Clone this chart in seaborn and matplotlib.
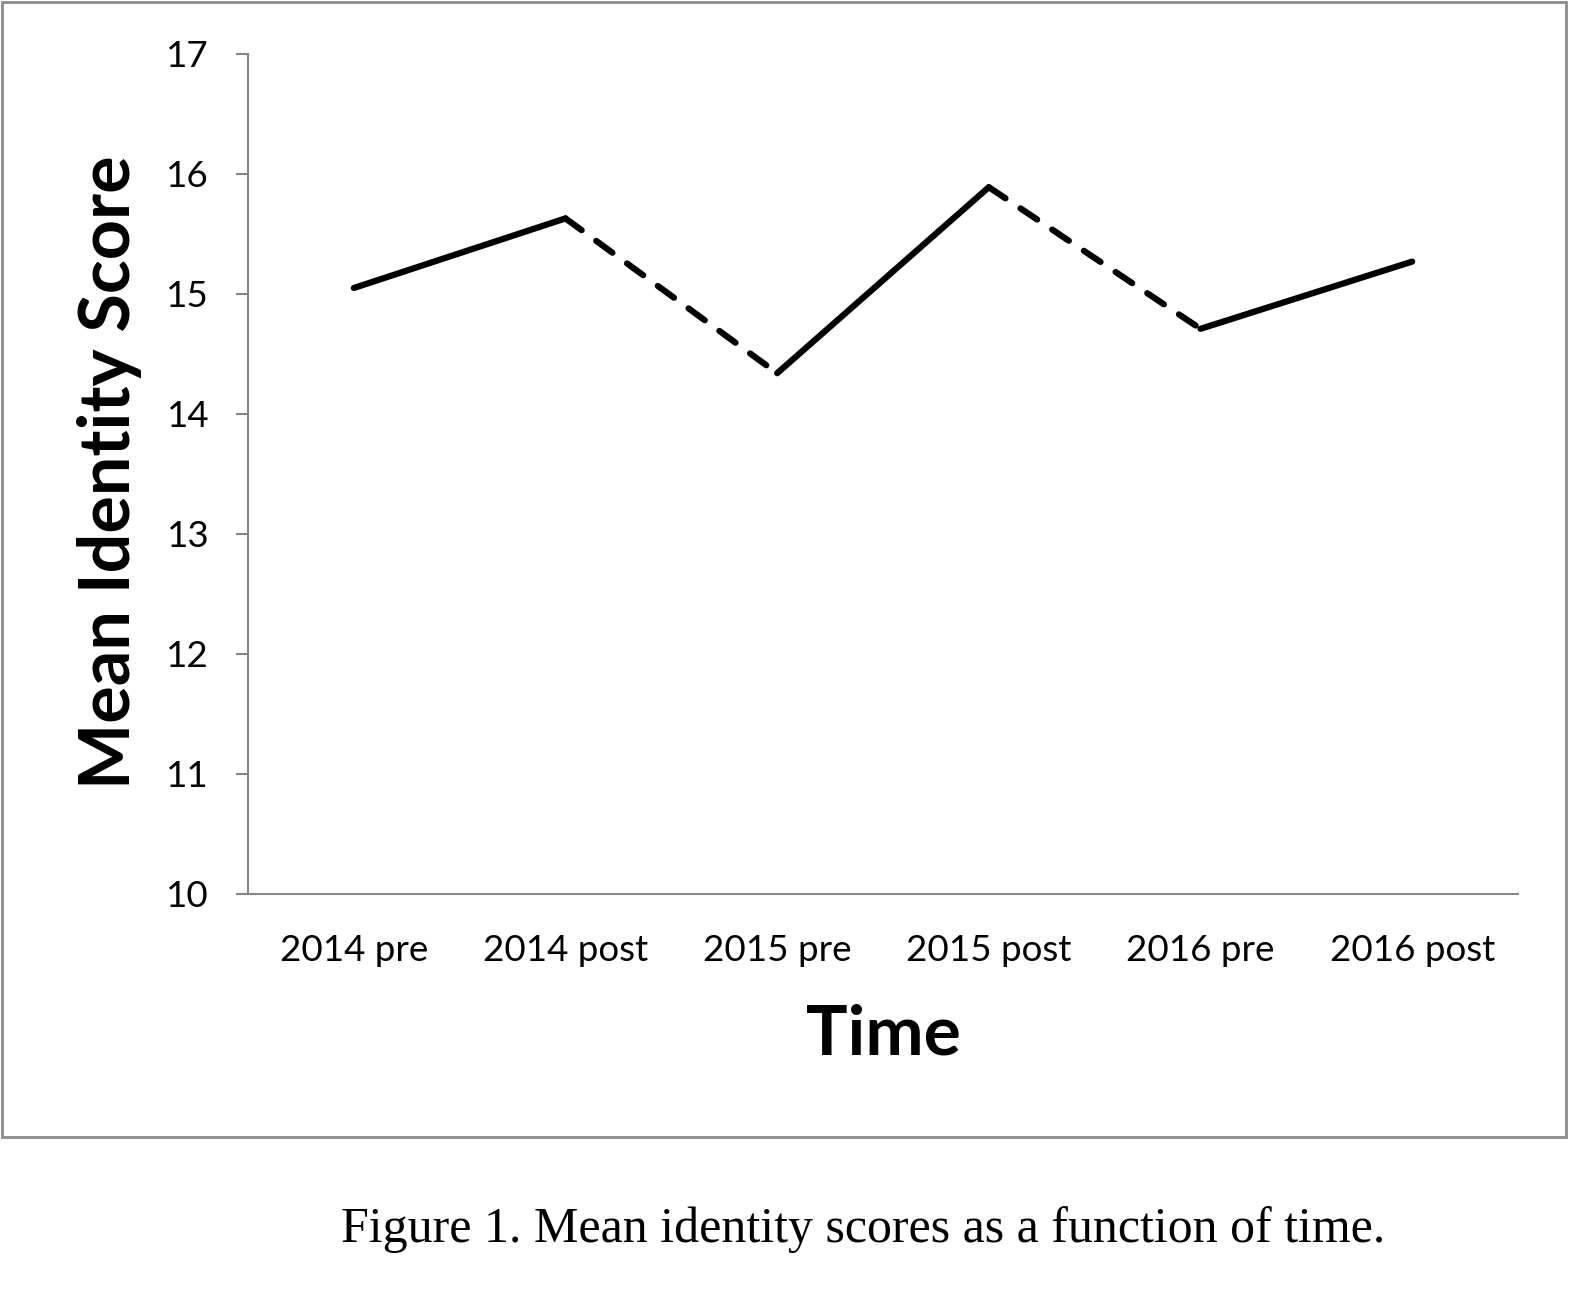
import matplotlib
matplotlib.use("Agg")
import matplotlib.pyplot as plt
import seaborn as sns
import pandas as pd
from matplotlib.patches import Rectangle

# Data
time_points = ["2014 pre", "2014 post", "2015 pre", "2015 post", "2016 pre", "2016 post"]
mean_scores = [15.05, 15.63, 14.34, 15.89, 14.71, 15.27]
# segment styles between consecutive points: within-year (solid) vs between-year (dashed)
segment_styles = ["solid", "dashed", "solid", "dashed", "solid"]
y_ticks = [10, 11, 12, 13, 14, 15, 16, 17]

sns.set_theme(style="white")
plt.rcParams['font.family'] = ['Lato', 'DejaVu Sans']
plt.rcParams['text.color'] = 'black'
plt.rcParams['axes.labelcolor'] = 'black'

fig = plt.figure(figsize=(15.75, 13.02), dpi=100)
ax = fig.add_axes([248/1575, 1-894/1302, 1270/1575, 840/1302])

rows = []
for i, st in enumerate(segment_styles):
    for j in (i, i + 1):
        rows.append({"seg": i, "style": st, "x": j, "y": mean_scores[j]})
df = pd.DataFrame(rows)

for seg, sub in df.groupby("seg"):
    st = sub["style"].iloc[0]
    sns.lineplot(data=sub, x="x", y="y", ax=ax, color="black", linewidth=4.5,
                 estimator=None, sort=False, legend=False)
    line = ax.lines[-1]
    line.set_solid_capstyle("round")
    line.set_dash_capstyle("round")
    line.set_solid_joinstyle("round")
    if st == "dashed":
        line.set_dashes((3.2, 2.9))

ax.set_xlim(-0.5, len(time_points) - 0.5)
ax.set_ylim(10, 17)
ax.set_xticks(range(len(time_points)))
ax.set_xticklabels(time_points, fontsize=26.5)
ax.set_yticks(y_ticks)
ax.set_yticklabels([str(t) for t in y_ticks], fontsize=26.5)

for s in ["top", "right"]:
    ax.spines[s].set_visible(False)
for s in ["left", "bottom"]:
    ax.spines[s].set_color("#868686")
    ax.spines[s].set_linewidth(1.5)

ax.tick_params(axis="y", length=9, width=1.5, color="#868686", pad=19, left=True, labelcolor="black")
ax.tick_params(axis="x", length=0, pad=29, labelcolor="black")

ax.set_xlabel("Time", fontsize=50, fontweight="bold", va="center", color="black")
ax.xaxis.set_label_coords(0.5, -0.168)
ax.set_ylabel("Mean Identity Score", fontsize=50.5, fontweight="bold", va="center", color="black")
ax.yaxis.set_label_coords(-0.1087, 0.502)

# chart frame
fig.patches.append(Rectangle((2/1575, 1-1137/1302), 1564/1575, 1135/1302,
                             transform=fig.transFigure, fill=False,
                             edgecolor="#8c8c8c", linewidth=2))

fig.text(863/1575, 1-1230/1302, "Figure 1. Mean identity scores as a function of time.",
         family=["Liberation Serif"], fontsize=36, ha="center", va="center", color="black")

fig.savefig("out.png", dpi=100, facecolor="white")
